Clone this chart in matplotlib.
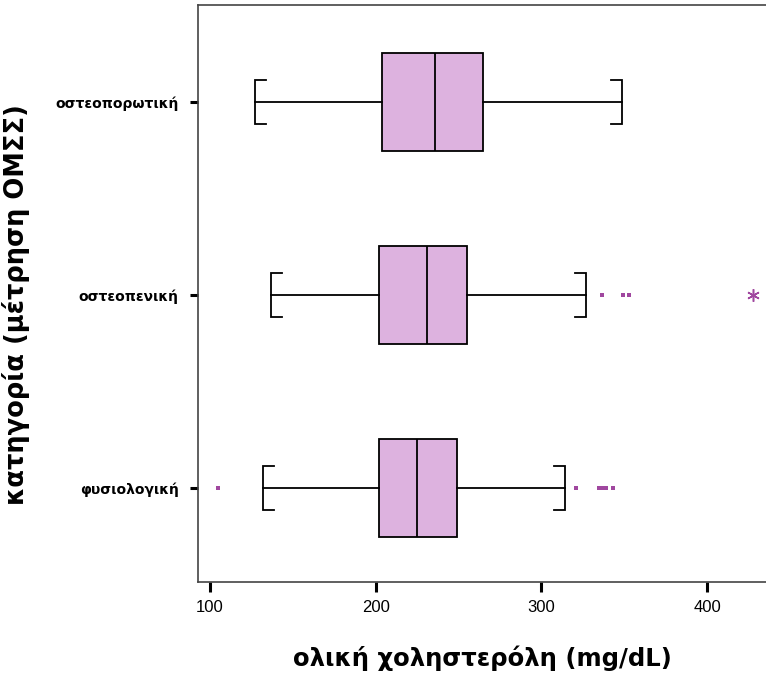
import matplotlib
matplotlib.use("Agg")
import matplotlib.pyplot as plt

# Categories, bottom to top
categories = ["φυσιολογική", "οστεοπενική", "οστεοπορωτική"]

# Box-plot summaries for total cholesterol (mg/dL)
whisker_low = [131.8, 136.6, 127.2]
q1 = [202.2, 202.2, 203.6]
median = [225.1, 231.2, 235.8]
q3 = [249.2, 255.3, 265.0]
whisker_high = [314.2, 326.9, 348.5]

# Outliers (small squares) and extreme values (asterisks)
outliers = [
    [105.0, 321.0, 335.0, 337.0, 339.0, 343.0],
    [336.5, 349.0, 353.0],
    [],
]
extremes = [[], [427.5], []]

x_ticks = [100, 200, 300, 400]

box_fill = "#DDB2DF"
point_color = "#A0479F"

fig = plt.figure(figsize=(7.66, 6.86), dpi=100)
ax = fig.add_axes([198 / 766, 104 / 686, 1 - 198 / 766, (582 - 5) / 686])

positions = [1, 2, 3]
stats = []
for i in range(len(categories)):
    stats.append(dict(med=median[i], q1=q1[i], q3=q3[i],
                      whislo=whisker_low[i], whishi=whisker_high[i],
                      fliers=[], label=categories[i]))

ax.bxp(stats, positions=positions, orientation="horizontal", widths=0.51,
       patch_artist=True, showcaps=False,
       boxprops=dict(facecolor=box_fill, edgecolor="black", linewidth=1.3),
       medianprops=dict(color="black", linewidth=1.3),
       whiskerprops=dict(color="black", linewidth=1.3))

# Bracket-shaped whisker caps
cap_half = 0.115
cap_tick = 6.6
for i, y in enumerate(positions):
    lo, hi = whisker_low[i], whisker_high[i]
    ax.plot([lo + cap_tick, lo, lo, lo + cap_tick],
            [y - cap_half, y - cap_half, y + cap_half, y + cap_half],
            color="black", linewidth=1.3, solid_joinstyle="miter")
    ax.plot([hi - cap_tick, hi, hi, hi - cap_tick],
            [y - cap_half, y - cap_half, y + cap_half, y + cap_half],
            color="black", linewidth=1.3, solid_joinstyle="miter")
    if outliers[i]:
        ax.plot(outliers[i], [y] * len(outliers[i]), linestyle="none",
                marker="s", markersize=2.6, color=point_color,
                markeredgewidth=0)
    if extremes[i]:
        ax.plot(extremes[i], [y] * len(extremes[i]), linestyle="none",
                marker=(6, 2, 0), markersize=9, color=point_color,
                markeredgewidth=1.1)

ax.set_xlim(92.8, 435.5)
ax.set_ylim(0.513, 3.503)
ax.set_xticks(x_ticks)
ax.set_xticklabels([str(t) for t in x_ticks], fontsize=12,
                   family="Liberation Sans")
ax.set_yticks(positions)
ax.set_yticklabels(categories, fontsize=10, fontweight="bold",
                   family="DejaVu Sans")

ax.tick_params(axis="x", length=7, width=2.2, pad=6)
ax.tick_params(axis="y", length=6, width=2.2, pad=8)

for side in ["left", "bottom", "top"]:
    ax.spines[side].set_color("#444444")
    ax.spines[side].set_linewidth(1.2)
ax.spines["right"].set_visible(False)

ax.set_xlabel("ολική χοληστερόλη (mg/dL)", fontsize=17.5, fontweight="bold",
              labelpad=22)
ax.set_ylabel("κατηγορία (μέτρηση ΟΜΣΣ)", fontsize=18.5, fontweight="bold",
              labelpad=18)
ax.yaxis.set_label_coords(-168 / 568, 0.48)

fig.savefig("out.png", dpi=100)
